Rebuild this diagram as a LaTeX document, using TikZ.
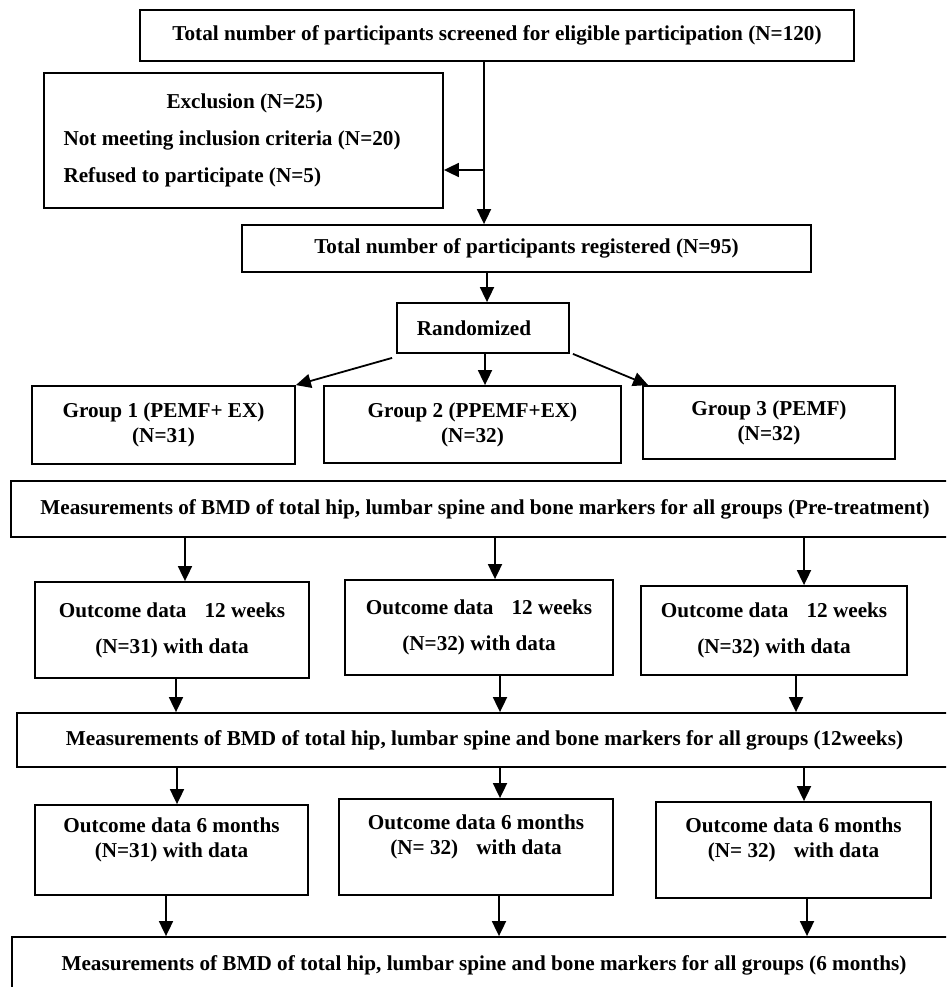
\documentclass[tikz,border=0pt]{standalone}
\usepackage{fontspec}
\setmainfont{Liberation Serif}
\usetikzlibrary{positioning,arrows.meta}
\tikzset{box/.style={draw,line width=1.8pt,inner sep=0pt,align=center,
        font=\bfseries\fontsize{21.2}{25}\selectfont}}
\tikzset{arr/.style={line width=1.8pt,-{Triangle[width=14pt,length=15pt]}}}

\begin{document}
\begin{tikzpicture}[x=1pt,y=-1pt]
    \useasboundingbox (0,0) rectangle (946,987);
    \fill[white] (0,0) rectangle (946,987);
    \clip (0,0) rectangle (946,987);
    \node[box,minimum width=714pt,minimum height=51pt] (screen) at (497,35.5)
        {Total number of participants screened for eligible participation (N=120)};
    \node[box,align=flush left,text width=360pt,minimum width=399pt,minimum height=135pt] (excl) at (243.5,140.5)
        {\hspace*{103pt}Exclusion (N=25)\\[12pt]
         Not meeting inclusion criteria (N=20)\\[12pt]
         Refused to participate (N=5)};
    \node[box,minimum width=569pt,minimum height=47pt] (reg) at (526.5,248.5)
        {Total number of participants registered (N=95)};
    \node[box,minimum width=172pt,minimum height=50pt] (rand) at (483,328)
        {Randomized\hspace*{18pt}};
    \node[box,minimum width=263pt,minimum height=78pt] (g1) at (163.5,425)
        {Group 1 (PEMF+ EX)\\(N=31)};
    \node[box,minimum width=297pt,minimum height=77pt] (g2) at (472.5,424.5)
        {Group 2 (PPEMF+EX)\\(N=32)};
    \node[box,minimum width=252pt,minimum height=73pt] (g3) at (769,422.5)
        {Group 3 (PEMF)\\(N=32)};
    \node[box,minimum width=948pt,minimum height=56pt] (pre) at (485,509)
        {Measurements of BMD of total hip, lumbar spine and bone markers for all groups (Pre-treatment)};
    \node[box,minimum width=274pt,minimum height=96pt] (a12) at (172,630)
        {Outcome data\hspace{0.6em} 12 weeks\\[11pt](N=31) with data};
    \node[box,minimum width=268pt,minimum height=95pt] (b12) at (479,627.5)
        {Outcome data\hspace{0.6em} 12 weeks\\[11pt](N=32) with data};
    \node[box,minimum width=266pt,minimum height=89pt] (c12) at (774,630.5)
        {Outcome data\hspace{0.6em} 12 weeks\\[11pt](N=32) with data};
    \node[box,minimum width=935pt,minimum height=54pt] (wk) at (484.5,740)
        {Measurements of BMD of total hip, lumbar spine and bone markers for all groups (12weeks)};
    \node[box,minimum width=273pt,minimum height=90pt] (a6) at (171.5,850)
        {Outcome data 6 months\\(N=31) with data\\~};
    \node[box,minimum width=274pt,minimum height=96pt] (b6) at (476,847)
        {Outcome data 6 months\\(N= 32)\hspace{0.6em} with data\\~};
    \node[box,minimum width=275pt,minimum height=96pt] (c6) at (793.5,850)
        {Outcome data 6 months\\(N= 32)\hspace{0.6em} with data\\~};
    \node[box,minimum width=944pt,minimum height=56pt] (mo) at (484,965)
        {Measurements of BMD of total hip, lumbar spine and bone markers for all groups (6 months)};

    \coordinate (split) at (484,170);
    \draw[arr] (split |- screen.south) -- (split |- reg.north);
    \draw[arr] (split) -- (split -| excl.east);
    \draw[arr] ([xshift=4pt]rand.north |- reg.south) -- ([xshift=4pt]rand.north);
    \draw[arr] ([xshift=-4pt,yshift=-4pt]rand.south west) -- (g1.north east);
    \draw[arr] ([xshift=2pt]rand.south) -- ([xshift=2pt]rand.south |- g2.north);
    \draw[arr] ([xshift=3pt]rand.south east) -- ([xshift=6pt]g3.north west);

    \draw[arr] ([xshift=13pt]a12.north |- pre.south) -- ([xshift=13pt]a12.north);
    \draw[arr] ([xshift=16pt]b12.north |- pre.south) -- ([xshift=16pt]b12.north);
    \draw[arr] ([xshift=30pt]c12.north |- pre.south) -- ([xshift=30pt]c12.north);

    \draw[arr] ([xshift=4pt]a12.south) -- ([xshift=4pt]a12.south |- wk.north);
    \draw[arr] ([xshift=21pt]b12.south) -- ([xshift=21pt]b12.south |- wk.north);
    \draw[arr] ([xshift=22pt]c12.south) -- ([xshift=22pt]c12.south |- wk.north);

    \draw[arr] ([xshift=5.5pt]a6.north |- wk.south) -- ([xshift=5.5pt]a6.north);
    \draw[arr] ([xshift=24pt]b6.north |- wk.south) -- ([xshift=24pt]b6.north);
    \draw[arr] ([xshift=10.5pt]c6.north |- wk.south) -- ([xshift=10.5pt]c6.north);

    \draw[arr] ([xshift=-5.5pt]a6.south) -- ([xshift=-5.5pt]a6.south |- mo.north);
    \draw[arr] ([xshift=23pt]b6.south) -- ([xshift=23pt]b6.south |- mo.north);
    \draw[arr] ([xshift=13.5pt]c6.south) -- ([xshift=13.5pt]c6.south |- mo.north);
\end{tikzpicture}
\end{document}
